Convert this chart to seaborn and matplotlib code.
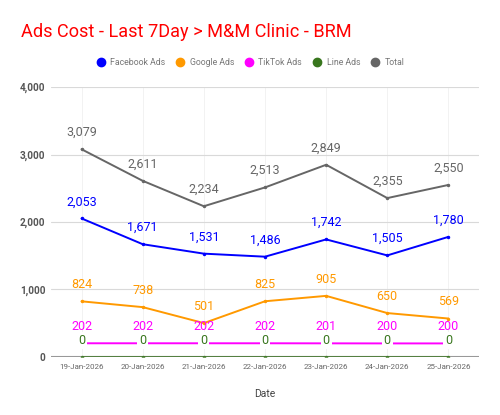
import matplotlib
matplotlib.use("Agg")
import matplotlib.pyplot as plt
import seaborn as sns
import pandas as pd
from matplotlib.lines import Line2D

# ===================== 数据 =====================
dates = ["19-Jan-2026", "20-Jan-2026", "21-Jan-2026", "22-Jan-2026",
         "23-Jan-2026", "24-Jan-2026", "25-Jan-2026"]
facebook = [2053, 1671, 1531, 1486, 1742, 1505, 1780]
google = [824, 738, 501, 825, 905, 650, 569]
tiktok = [202, 202, 202, 202, 201, 200, 200]
line_ads = [0, 0, 0, 0, 0, 0, 0]
total = [3079, 2611, 2234, 2513, 2849, 2355, 2550]

series_names = ["Facebook Ads", "Google Ads", "TikTok Ads", "Line Ads", "Total"]
series_vals = [facebook, google, tiktok, line_ads, total]
colors = ["#0000ff", "#ff9900", "#ff00ff", "#38761d", "#666666"]

# long-form table for seaborn
rows = []
for name, vals in zip(series_names, series_vals):
    for i, v in enumerate(vals):
        rows.append({"idx": i, "Date": dates[i], "value": v, "series": name})
df = pd.DataFrame(rows)

# ===================== 绘图 =====================
sns.set_theme(style="white")
plt.rcParams["font.family"] = ["Roboto", "DejaVu Sans"]

fig = plt.figure(figsize=(5, 4.15), dpi=100)
ax = fig.add_axes([0.102, 0.14, 0.856, 0.65])

ax.grid(axis="y", color="#d9d9d9", lw=0.8, zorder=0)
for i in range(len(dates)):
    ax.axvline(i, color="#f0f0f0", lw=0.6, zorder=0)
ax.axhline(0, color="#999999", lw=1.5, zorder=1)

# draw order: Line Ads first, Facebook on top
order = ["Line Ads", "TikTok Ads", "Google Ads", "Total", "Facebook Ads"]
for name in order:
    k = series_names.index(name)
    sub = df[df["series"] == name]
    lw = 2.2 if name == "Line Ads" else 1.4
    sns.lineplot(data=sub, x="idx", y="value", color=colors[k], lw=lw,
                 marker="o", markersize=2.5, markeredgewidth=0, ax=ax,
                 legend=False, zorder=3)
    ax.lines[-1].set_alpha(0.7 if name == "Line Ads" else 1)

# 数值标签
for name, vals in zip(series_names, series_vals):
    k = series_names.index(name)
    for i, v in enumerate(vals):
        box = None
        if name == "Line Ads":
            box = dict(boxstyle="square,pad=0.15", fc="white", ec="none")
        ax.annotate(f"{v:,}", (i, v), xytext=(0, 12), textcoords="offset points",
                    ha="center", va="center", fontsize=9, color=colors[k],
                    zorder=5, bbox=box)

ax.set_xlim(-0.5, 6.5)
ax.set_ylim(0, 4000)
ax.set_yticks([0, 1000, 2000, 3000, 4000])
ax.set_yticklabels(["0", "1,000", "2,000", "3,000", "4,000"])
ax.set_xticks(range(len(dates)))
ax.set_xticklabels(dates)

for s in ax.spines.values():
    s.set_visible(False)

ax.tick_params(axis="y", length=0, labelsize=7.2, labelcolor="#555555", pad=4)
ax.tick_params(axis="x", length=0, labelsize=5.8, labelcolor="#666666", pad=5)
for t in ax.get_yticklabels():
    t.set_fontweight("bold")

ax.set_xlabel("Date", fontsize=7.5, color="#444444")
ax.xaxis.set_label_coords(0.5, -0.118)
ax.set_ylabel("")

fig.text(0.042, 0.922, "Ads Cost - Last 7Day > M&M Clinic - BRM", color="#ff0000",
         fontsize=13.1, ha="left", va="center")

handles = [Line2D([], [], marker="o", ls="none", color=c, markersize=6) for c in colors]
fig.legend(handles, series_names, loc="center", bbox_to_anchor=(0.5, 0.85), ncol=5,
           frameon=False, fontsize=6.3, labelcolor="#777777", handletextpad=0.45,
           columnspacing=1.15, handlelength=1.2)

fig.savefig("out.png", dpi=100)
